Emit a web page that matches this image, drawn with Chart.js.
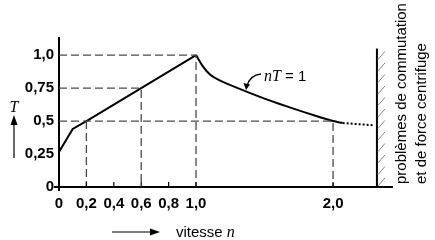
<!DOCTYPE html>
<html>
<head>
<meta charset="utf-8">
<script src="https://cdn.jsdelivr.net/npm/chart.js@4.4.1/dist/chart.umd.min.js"></script>
<style>
html,body{margin:0;padding:0;background:#fff;}
#wrap{width:435px;height:240px;position:relative;}
</style>
</head>
<body>
<div id="wrap"><canvas id="c" width="435" height="240"></canvas></div>
<script>
// ---- data ----
const xTickValues = [0, 0.2, 0.4, 0.6, 0.8, 1.0, 2.0];
const xTickLabels = ["0", "0,2", "0,4", "0,6", "0,8", "1,0", "2,0"];
const yTickValues = [0, 0.25, 0.5, 0.75, 1.0];
const yTickLabels = ["0", "0,25", "0,5", "0,75", "1,0"];

// rising part of the torque curve
const riseN = [0, 0.1, 0.2, 0.6, 1.0];
const riseT = [0.265, 0.44, 0.5, 0.75, 1.0];
// constant-power part nT = 1
const hypN = [1.0, 1.05, 1.1, 1.2, 1.3, 1.4, 1.5, 1.6, 1.7, 1.8, 1.9, 2.0, 2.07];
const hypT = [1.0, 0.915, 0.855, 0.795, 0.752, 0.71, 0.67, 0.633, 0.598, 0.564, 0.531, 0.5, 0.485];
// dotted continuation up to the limit
const dotN = [2.07, 2.3];
const dotT = [0.485, 0.468];
// limit wall (commutation / centrifugal force)
const wallN = [2.32, 2.32];
const wallT = [0, 1.05];
// dashed guide lines
const guideA_N = [0, 1.0, 1.0];  const guideA_T = [1.0, 1.0, 0];
const guideB_N = [0, 0.6, 0.6];  const guideB_T = [0.75, 0.75, 0];
const guideC_N = [0, 2.0, 2.0];  const guideC_T = [0.5, 0.5, 0];
const guideD_N = [0.2, 0.2];     const guideD_T = [0.5, 0];

const annotText = "nT";
const annotRest = " = 1";
const wallLine1 = "problèmes de commutation";
const wallLine2 = "et de force centrifuge";
const yTitle = "T";
const xTitle = "vitesse ";
const xTitleVar = "n";

const pts = (xs, ys) => xs.map((x, i) => ({x: x, y: ys[i]}));
const guide = (xs, ys) => ({
  data: pts(xs, ys), showLine: true, borderColor: '#4a4a4a', borderWidth: 1.3,
  borderDash: [8, 4], pointRadius: 0, fill: false, tension: 0
});

const SANS = '"Liberation Sans", Arial, Helvetica, sans-serif';
const SERIF = '"Liberation Serif", "Times New Roman", serif';

const decor = {
  id: 'decor',
  afterDraw(chart) {
    const ctx = chart.ctx;
    const xs = chart.scales.x, ys = chart.scales.y;
    const ca = chart.chartArea;
    ctx.save();
    // axis extensions at origin
    ctx.strokeStyle = '#000'; ctx.lineWidth = 2;
    ctx.beginPath();
    ctx.moveTo(ca.left - 5, ca.bottom); ctx.lineTo(ca.left, ca.bottom);
    ctx.moveTo(ca.left, ca.bottom); ctx.lineTo(ca.left, ca.bottom + 4);
    ctx.stroke();
    // small x tick marks above the axis
    ctx.lineWidth = 1.2;
    ctx.beginPath();
    xs.ticks.forEach(t => {
      const px = xs.getPixelForValue(t.value);
      ctx.moveTo(px, ca.bottom); ctx.lineTo(px, ca.bottom - 5);
    });
    ctx.stroke();
    // hatching on the wall
    const wx = xs.getPixelForValue(wallN[0]);
    const wTop = ys.getPixelForValue(wallT[1]);
    const wBot = ys.getPixelForValue(wallT[0]);
    ctx.strokeStyle = '#777'; ctx.lineWidth = 0.9;
    ctx.beginPath();
    for (let y = wBot - 1; y > wTop + 4; y -= 11.5) {
      ctx.moveTo(wx + 1, y); ctx.lineTo(wx + 8, y - 8);
    }
    ctx.stroke();
    // annotation nT = 1
    ctx.fillStyle = '#000';
    ctx.textBaseline = 'alphabetic';
    ctx.font = 'italic 16px ' + SERIF;
    ctx.fillText(annotText, 264, 81);
    const w1 = ctx.measureText(annotText).width;
    ctx.font = '15px ' + SANS;
    ctx.fillText(annotRest, 264 + w1, 81);
    // curved arrow
    ctx.strokeStyle = '#000'; ctx.lineWidth = 1.3;
    ctx.beginPath();
    ctx.moveTo(261, 74);
    ctx.quadraticCurveTo(250, 75, 247, 86);
    ctx.stroke();
    ctx.beginPath();
    ctx.moveTo(246, 90); ctx.lineTo(243.5, 83); ctx.lineTo(250, 84.5); ctx.closePath();
    ctx.fill();
    // y title T with arrow
    ctx.font = 'italic 16px ' + SERIF;
    ctx.textAlign = 'center';
    ctx.fillText(yTitle, 14, 112);
    ctx.lineWidth = 1.2;
    ctx.beginPath(); ctx.moveTo(14, 158); ctx.lineTo(14, 122); ctx.stroke();
    ctx.beginPath(); ctx.moveTo(14, 115); ctx.lineTo(10.5, 125); ctx.lineTo(17.5, 125); ctx.closePath(); ctx.fill();
    // x title arrow + text
    ctx.beginPath(); ctx.moveTo(112, 232); ctx.lineTo(152, 232); ctx.stroke();
    ctx.beginPath(); ctx.moveTo(160, 232); ctx.lineTo(150, 228.5); ctx.lineTo(150, 235.5); ctx.closePath(); ctx.fill();
    ctx.textAlign = 'left';
    ctx.font = '15px ' + SANS;
    ctx.fillText(xTitle, 176, 237);
    const w2 = ctx.measureText(xTitle).width;
    ctx.font = 'italic 16px ' + SERIF;
    ctx.fillText(xTitleVar, 176 + w2, 237);
    // rotated wall text
    ctx.font = '15px ' + SANS;
    ctx.save();
    ctx.translate(406, 184);
    ctx.rotate(-Math.PI / 2);
    ctx.fillText(wallLine1, 0, 0);
    ctx.fillText(wallLine2, 0, 19.5);
    ctx.restore();
    ctx.restore();
  }
};

new Chart(document.getElementById('c'), {
  type: 'scatter',
  data: {
    datasets: [
      guide(guideA_N, guideA_T),
      guide(guideB_N, guideB_T),
      guide(guideC_N, guideC_T),
      guide(guideD_N, guideD_T),
      { data: pts(riseN, riseT), showLine: true, borderColor: '#000', borderWidth: 2,
        pointRadius: 0, tension: 0 },
      { data: pts(hypN, hypT), showLine: true, borderColor: '#000', borderWidth: 2,
        pointRadius: 0, cubicInterpolationMode: 'monotone' },
      { data: pts(dotN, dotT), showLine: true, borderColor: '#000', borderWidth: 2,
        borderDash: [2, 2], pointRadius: 0, tension: 0 },
      { data: pts(wallN, wallT), showLine: true, borderColor: '#000', borderWidth: 2,
        pointRadius: 0, tension: 0 }
    ]
  },
  options: {
    responsive: false,
    animation: false,
    events: [],
    layout: { padding: { top: 38, right: 43, left: 0, bottom: 0 } },
    plugins: { legend: { display: false }, tooltip: { enabled: false } },
    scales: {
      x: {
        type: 'linear', min: 0, max: 2.43,
        grid: { display: false, drawTicks: false },
        border: { display: true, color: '#000', width: 2 },
        afterBuildTicks: s => { s.ticks = xTickValues.map(v => ({ value: v })); },
        afterFit: s => { s.height = 53; },
        ticks: {
          autoSkip: false, maxRotation: 0, padding: 8, color: '#000',
          font: { family: SANS, size: 15, weight: 'bold' },
          callback: (v, i) => xTickLabels[i]
        }
      },
      y: {
        type: 'linear', min: 0, max: 1.13,
        grid: { display: false, drawTicks: false },
        border: { display: true, color: '#000', width: 2 },
        afterBuildTicks: s => { s.ticks = yTickValues.map(v => ({ value: v })); },
        afterFit: s => { s.width = 59; },
        ticks: {
          autoSkip: false, padding: 5, color: '#000',
          font: { family: SANS, size: 15, weight: 'bold' },
          callback: (v, i) => yTickLabels[i]
        }
      }
    }
  },
  plugins: [decor]
});
</script>
</body>
</html>
